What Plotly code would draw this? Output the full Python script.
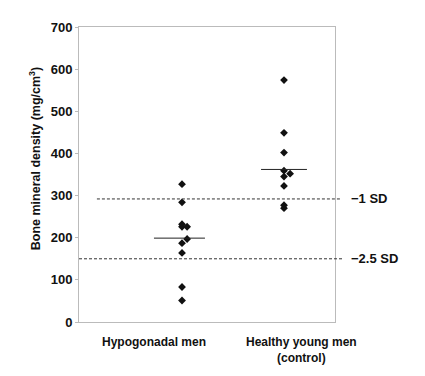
import plotly.graph_objects as go

# Data
hypo_values = [327, 284, 232, 226, 226, 197, 187, 164, 83, 51]
hypo_offsets = [0, 0, 0, 0, 0.05, 0.05, 0, 0, 0, 0]
healthy_values = [574, 449, 402, 359, 352, 345, 323, 277, 270]
healthy_offsets = [0, 0, 0, 0, 0.06, 0, 0, 0, 0]
group_means = [199, 362]
group_names = ["Hypogonadal men", "Healthy young men<br>(control)"]
sd_levels = [292, 150]
sd_labels = ["\u22121 SD", "\u22122.5 SD"]
y_ticks = [0, 100, 200, 300, 400, 500, 600, 700]
y_title = "Bone mineral density (mg/cm<sup>3</sup>)"

FONT = "Liberation Sans"

fig = go.Figure()

fig.add_trace(go.Scatter(
    x=[0 + o for o in hypo_offsets], y=hypo_values, mode="markers",
    marker=dict(symbol="diamond", size=6, color="#111111"),
    showlegend=False, cliponaxis=False))
fig.add_trace(go.Scatter(
    x=[1 + o for o in healthy_offsets], y=healthy_values, mode="markers",
    marker=dict(symbol="diamond", size=6, color="#111111"),
    showlegend=False, cliponaxis=False))

# mean lines
half_widths = [0.25, 0.225]
centers = [-0.025, 1.0]
for c, hw, m in zip(centers, half_widths, group_means):
    fig.add_shape(type="line", xref="x", yref="y", x0=c - hw, x1=c + hw,
                  y0=m, y1=m, line=dict(color="#222222", width=1))

# SD dashed lines
sd_x0 = [0.07, 0.0]
sd_x1 = [1.02, 1.035]
for lvl, x0, x1, lab in zip(sd_levels, sd_x0, sd_x1, sd_labels):
    fig.add_shape(type="line", xref="paper", yref="y", x0=x0, x1=x1,
                  y0=lvl, y1=lvl, line=dict(color="#333333", width=1, dash="3px,2px"))
    fig.add_annotation(xref="paper", yref="y", x=1.055, y=lvl, text=lab,
                       showarrow=False, xanchor="left", yanchor="middle",
                       font=dict(family=FONT, size=13, color="#111111", weight="bold"))

# category labels
label_x = [-0.27, 1.17]
for lx, name in zip(label_x, group_names):
    fig.add_annotation(xref="x", yref="paper", x=lx, y=0, yshift=-11, text=name,
                       showarrow=False, xanchor="center", yanchor="top",
                       font=dict(family=FONT, size=12, color="#111111", weight="bold"))

# y-axis title (placed slightly above the axis centre, as in the original)
fig.add_annotation(xref="paper", yref="paper", x=-0.172, y=0.555, text=y_title,
                   textangle=-90, showarrow=False, xanchor="center", yanchor="middle",
                   font=dict(family=FONT, size=12.5, color="#111111", weight="bold"))

fig.update_xaxes(range=[-1.01, 1.5], showticklabels=False, ticks="",
                 showgrid=False, zeroline=False, showline=True, linecolor="#bbbbbb",
                 linewidth=1, mirror=True)
fig.update_yaxes(range=[0, 700], tickvals=y_ticks, ticks="outside", ticklen=3,
                 tickcolor="#bbbbbb", showgrid=False, zeroline=False, showline=True,
                 linecolor="#bbbbbb", linewidth=1, mirror=True,
                 tickfont=dict(family=FONT, size=13, color="#111111", weight="bold"))

# page has an 8px body margin, so the figure is sized to fit the window
fig.update_layout(width=417, height=368, margin=dict(l=71, r=90, t=16, b=54),
                  plot_bgcolor="white", paper_bgcolor="white", showlegend=False)

fig.write_html("out.html")
